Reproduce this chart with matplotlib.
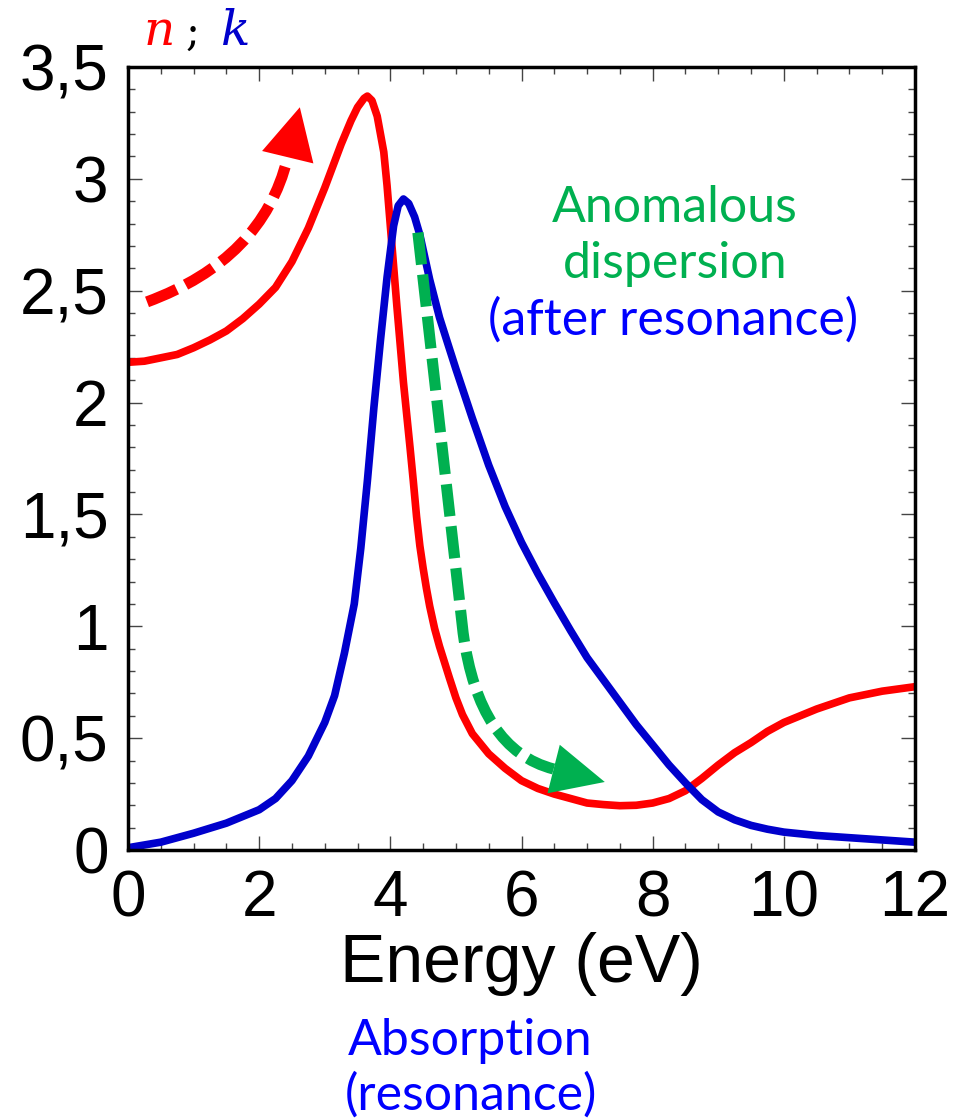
import matplotlib
matplotlib.use("Agg")
import matplotlib.pyplot as plt
from matplotlib.path import Path
from matplotlib.patches import PathPatch
from matplotlib.ticker import MultipleLocator

# Optical constants
energy_n = [0, 0.25, 0.5, 0.75, 1, 1.25, 1.5, 1.75, 2, 2.25, 2.5, 2.75, 3, 3.25, 3.4, 3.5,
            3.6, 3.65, 3.72, 3.8, 3.9, 3.95, 4.0, 4.1, 4.2, 4.3, 4.35, 4.4, 4.45, 4.5, 4.55,
            4.6, 4.675, 4.75, 4.9, 5.0, 5.1, 5.25, 5.5, 5.75, 6.0, 6.25, 6.5, 6.75, 7.0,
            7.25, 7.5, 7.75, 8.0, 8.25, 8.5, 8.75, 9.0, 9.25, 9.5, 9.75, 10, 10.5, 11,
            11.5, 12]
n_values = [2.18, 2.185, 2.20, 2.215, 2.245, 2.28, 2.32, 2.375, 2.44, 2.515, 2.63, 2.78,
            2.96, 3.155, 3.26, 3.32, 3.36, 3.37, 3.35, 3.28, 3.12, 2.97, 2.79, 2.43, 2.09,
            1.80, 1.65, 1.49, 1.36, 1.26, 1.17, 1.09, 0.99, 0.91, 0.77, 0.68, 0.605, 0.52,
            0.43, 0.365, 0.31, 0.275, 0.25, 0.23, 0.21, 0.203, 0.198, 0.20, 0.21, 0.23,
            0.265, 0.32, 0.38, 0.435, 0.48, 0.53, 0.57, 0.63, 0.68, 0.71, 0.73]

energy_k = [0, 0.5, 1, 1.5, 2, 2.25, 2.5, 2.75, 3.0, 3.15, 3.3, 3.45, 3.55, 3.65, 3.75,
            3.85, 3.95, 4.05, 4.12, 4.2, 4.28, 4.37, 4.45, 4.6, 4.75, 4.88, 5.0, 5.25,
            5.5, 5.75, 6.0, 6.25, 6.5, 6.75, 7.0, 7.25, 7.5, 7.75, 8.0, 8.25, 8.5, 8.75,
            9.0, 9.25, 9.5, 9.75, 10, 10.5, 11, 11.5, 12]
k_values = [0.01, 0.035, 0.075, 0.12, 0.18, 0.23, 0.31, 0.42, 0.57, 0.69, 0.88, 1.10,
            1.35, 1.65, 1.98, 2.28, 2.56, 2.79, 2.88, 2.91, 2.89, 2.83, 2.75, 2.55, 2.38,
            2.26, 2.15, 1.93, 1.72, 1.535, 1.375, 1.235, 1.105, 0.98, 0.86, 0.76, 0.66,
            0.56, 0.47, 0.38, 0.30, 0.225, 0.17, 0.135, 0.11, 0.093, 0.08, 0.065, 0.055,
            0.045, 0.035]

x_ticks = [0, 2, 4, 6, 8, 10, 12]
y_ticks = [0, 0.5, 1, 1.5, 2, 2.5, 3, 3.5]
y_tick_labels = ["0", "0,5", "1", "1,5", "2", "2,5", "3", "3,5"]

# guide arrows (data coordinates): bezier control points, then head base -> tip
red_arrow_path = [(0.29, 2.45), (2.05, 2.64), (2.43, 3.09)]
red_arrow_tip = (2.62, 3.32)
green_arrow_path = [(4.42, 2.76), (5.11, 0.97), (5.35, 0.448), (6.49, 0.362)]
green_arrow_tip = (7.27, 0.304)

RED = "#ff0000"
BLUE = "#0000cc"
TEXT_BLUE = "#0000ff"
GREEN = "#00b050"

plt.rcParams["font.family"] = ["Liberation Sans", "DejaVu Sans"]
plt.rcParams["mathtext.fontset"] = "dejavuserif"

W, H = 957, 1118
fig = plt.figure(figsize=(W / 100, H / 100), dpi=100)
ax = fig.add_axes([128 / W, 1 - 850 / H, 787 / W, 783 / H])

ax.plot(energy_n, n_values, color=RED, lw=5.5)
ax.plot(energy_k, k_values, color=BLUE, lw=5.5)

dash = (0, (2.9, 0.9))

# red dashed arrow (normal dispersion)
p = red_arrow_path
red_curve = Path(p, [Path.MOVETO, Path.CURVE3, Path.CURVE3])
ax.add_patch(PathPatch(red_curve, fill=False, edgecolor=RED, lw=8, linestyle=dash,
                       capstyle="butt", zorder=4))
ax.annotate("", xy=red_arrow_tip, xytext=p[-1],
            arrowprops=dict(arrowstyle="-|>,head_length=37,head_width=19", mutation_scale=1,
                            lw=0, color=RED, shrinkA=0, shrinkB=0), zorder=5)

# green dashed arrow (anomalous dispersion)
g = green_arrow_path
green_curve = Path(g, [Path.MOVETO, Path.LINETO, Path.CURVE3, Path.CURVE3])
ax.add_patch(PathPatch(green_curve, fill=False, edgecolor=GREEN, lw=8, linestyle=dash,
                       capstyle="butt", zorder=4))
ax.annotate("", xy=green_arrow_tip, xytext=g[-1],
            arrowprops=dict(arrowstyle="-|>,head_length=38,head_width=18", mutation_scale=1,
                            lw=0, color=GREEN, shrinkA=0, shrinkB=0), zorder=5)

ax.set_xlim(0, 12)
ax.set_ylim(0, 3.5)
ax.set_xticks(x_ticks)
ax.set_yticks(y_ticks, labels=y_tick_labels)
ax.xaxis.set_minor_locator(MultipleLocator(0.5))
ax.yaxis.set_minor_locator(MultipleLocator(0.1))
ax.tick_params(which="both", direction="in", top=True, right=True, color="#444444")
ax.tick_params(which="major", length=10, width=1, labelsize=46, pad=14)
ax.tick_params(which="minor", length=5, width=1)
for s in ax.spines.values():
    s.set_linewidth(2.5)

ax.set_xlabel("Energy (eV)", fontsize=49, labelpad=2)

# n ; k label above the axis
fig.text(143 / W, 1 - 45 / H, "$n$", color=RED, fontsize=35, va="baseline")
fig.text(186 / W, 1 - 45 / H, ";", color="black", fontsize=30, va="baseline",
         family="DejaVu Serif")
fig.text(220 / W, 1 - 45 / H, "$k$", color=BLUE, fontsize=35, va="baseline")

txt = dict(fontsize=36, family=["Lato", "DejaVu Sans"], ha="center", va="baseline")
fig.text(675 / W, 1 - 222 / H, "Anomalous", color=GREEN, **txt)
fig.text(675 / W, 1 - 278 / H, "dispersion", color=GREEN, **txt)
fig.text(673 / W, 1 - 335 / H, "(after resonance)", color=TEXT_BLUE, **txt)
fig.text(470 / W, 1 - 1055 / H, "Absorption", color=TEXT_BLUE, **txt)
fig.text(471 / W, 1 - 1110 / H, "(resonance)", color=TEXT_BLUE, **txt)

fig.savefig("out.png", dpi=100)
